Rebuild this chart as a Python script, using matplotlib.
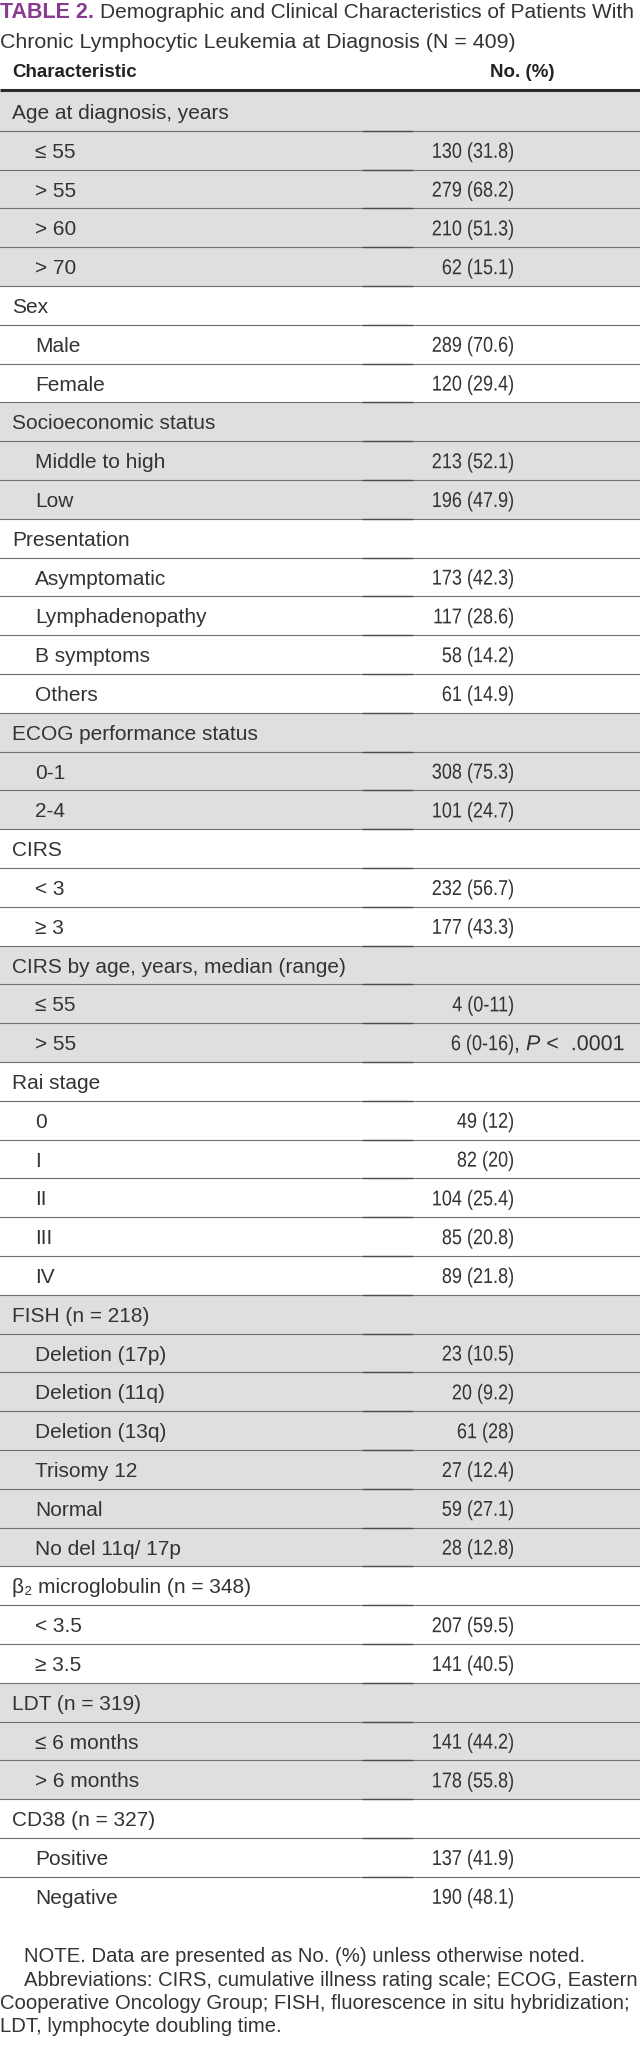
import matplotlib
matplotlib.use('Agg')
import matplotlib.pyplot as plt
from matplotlib.patches import Rectangle, PathPatch
from matplotlib.textpath import TextPath
from matplotlib.font_manager import FontProperties
from matplotlib.transforms import Affine2D

plt.rcParams['font.family'] = ['Liberation Sans', 'DejaVu Sans']
plt.rcParams['mathtext.fontset'] = 'custom'
plt.rcParams['mathtext.rm'] = 'Liberation Sans'
plt.rcParams['mathtext.it'] = 'Liberation Sans:italic'

# ---------------- table data ----------------
title_tag = "TABLE 2."
title_lines = ["Demographic and Clinical Characteristics of Patients With",
               "Chronic Lymphocytic Leukemia at Diagnosis (N = 409)"]
col_headers = ["Characteristic", "No. (%)"]

group_titles = ["Age at diagnosis, years", "Sex", "Socioeconomic status", "Presentation",
                "ECOG performance status", "CIRS", "CIRS by age, years, median (range)",
                "Rai stage", "FISH (n = 218)", "β₂ microglobulin (n = 348)",
                "LDT (n = 319)", "CD38 (n = 327)"]

group_labels = [["≤ 55", "> 55", "> 60", "> 70"],
                ["Male", "Female"],
                ["Middle to high", "Low"],
                ["Asymptomatic", "Lymphadenopathy", "B symptoms", "Others"],
                ["0-1", "2-4"],
                ["< 3", "≥ 3"],
                ["≤ 55", "> 55"],
                ["0", "I", "II", "III", "IV"],
                ["Deletion (17p)", "Deletion (11q)", "Deletion (13q)", "Trisomy 12",
                 "Normal", "No del 11q/ 17p"],
                ["< 3.5", "≥ 3.5"],
                ["≤ 6 months", "> 6 months"],
                ["Positive", "Negative"]]

group_values = [["130 (31.8)", "279 (68.2)", "210 (51.3)", "62 (15.1)"],
                ["289 (70.6)", "120 (29.4)"],
                ["213 (52.1)", "196 (47.9)"],
                ["173 (42.3)", "117 (28.6)", "58 (14.2)", "61 (14.9)"],
                ["308 (75.3)", "101 (24.7)"],
                ["232 (56.7)", "177 (43.3)"],
                ["4 (0-11)", "6 (0-16)|, $P$ <  .0001"],
                ["49 (12)", "82 (20)", "104 (25.4)", "85 (20.8)", "89 (21.8)"],
                ["23 (10.5)", "20 (9.2)", "61 (28)", "27 (12.4)", "59 (27.1)", "28 (12.8)"],
                ["207 (59.5)", "141 (40.5)"],
                ["141 (44.2)", "178 (55.8)"],
                ["137 (41.9)", "190 (48.1)"]]

notes = ["NOTE. Data are presented as No. (%) unless otherwise noted.",
         "Abbreviations: CIRS, cumulative illness rating scale; ECOG, Eastern",
         "Cooperative Oncology Group; FISH, fluorescence in situ hybridization;",
         "LDT, lymphocyte doubling time."]
notes_indent = [True, True, False, False]

# ---------------- layout / style ----------------
W, H = 640, 2051
TOP = 92.0
ROW_H = 38.8
X_GROUP = 12
X_ITEM = 35
X_VAL = 513
TXT = '#333333'
PURPLE = '#8b3a91'
SHADE = '#e0dfe0'
LINE = '#707070'
FS = 15

fig = plt.figure(figsize=(W / 100, H / 100), dpi=100, facecolor='white')
ax = fig.add_axes([0, 0, 1, 1])
ax.set_xlim(0, W)
ax.set_ylim(H, 0)
ax.axis('off')

val_prop = FontProperties(family='Liberation Sans')


def narrow_text(x, y, s, ha='right', size_px=21.5, sx=0.84):
    # condensed number text: glyph outlines squeezed horizontally
    tp = TextPath((0, 0), s, size=size_px, prop=val_prop)
    w = tp.get_extents().x1 * sx
    dx = x - w if ha == 'right' else x
    tr = Affine2D().scale(sx, -1).translate(dx, y)
    ax.add_patch(PathPatch(tr.transform_path(tp), fc=TXT, ec='none', lw=0, zorder=6))


# title
ax.text(0, 18, title_tag, fontsize=15.5, fontweight='bold', color=PURPLE, va='baseline', ha='left')
ax.text(100, 18, title_lines[0], fontsize=FS, color=TXT, va='baseline', ha='left')
ax.text(0, 48, title_lines[1], fontsize=15.4, color=TXT, va='baseline', ha='left')

# column headers
ax.text(X_GROUP, 77, col_headers[0], fontsize=13.5, fontweight='bold', color='#222222', va='baseline')
ax.text(555, 77, col_headers[1], fontsize=13.5, fontweight='bold', color='#222222', va='baseline', ha='right')
ax.plot([0, W], [90, 90], color='#2b2b2b', lw=2.2, solid_capstyle='butt', zorder=5)

# body rows
r = 0
for g, (gt, labs, vals) in enumerate(zip(group_titles, group_labels, group_values)):
    rows = [(gt, None, X_GROUP)] + [(l, v, X_ITEM) for l, v in zip(labs, vals)]
    for lab, val, x in rows:
        y0 = TOP + r * ROW_H
        if g % 2 == 0:
            ax.add_patch(Rectangle((0, y0 - 1.5 if r == 0 else y0), W, ROW_H + (1.5 if r == 0 else 0),
                                   facecolor=SHADE, edgecolor='none', zorder=1))
        if r > 0:
            ax.plot([0, W], [y0, y0], color=LINE, lw=0.8, zorder=3)
            ax.plot([363, 412], [y0, y0], color='#4e4e4e', lw=1.0, zorder=4)
        ax.text(x, y0 + 27, lab, fontsize=FS, color=TXT, va='baseline', ha='left', zorder=6)
        if val is not None:
            main, _, tail = val.partition('|')
            narrow_text(X_VAL, y0 + 27, main, ha='right')
            if tail:
                narrow_text(X_VAL + 1, y0 + 27, tail, ha='left', sx=1.0)
        r += 1

# footnotes
for i, (line, ind) in enumerate(zip(notes, notes_indent)):
    ax.text(24 if ind else 0, 1962 + i * 23.5, line, fontsize=14.6, color=TXT, va='baseline', ha='left')

fig.savefig('out.png', dpi=100, facecolor='white')
